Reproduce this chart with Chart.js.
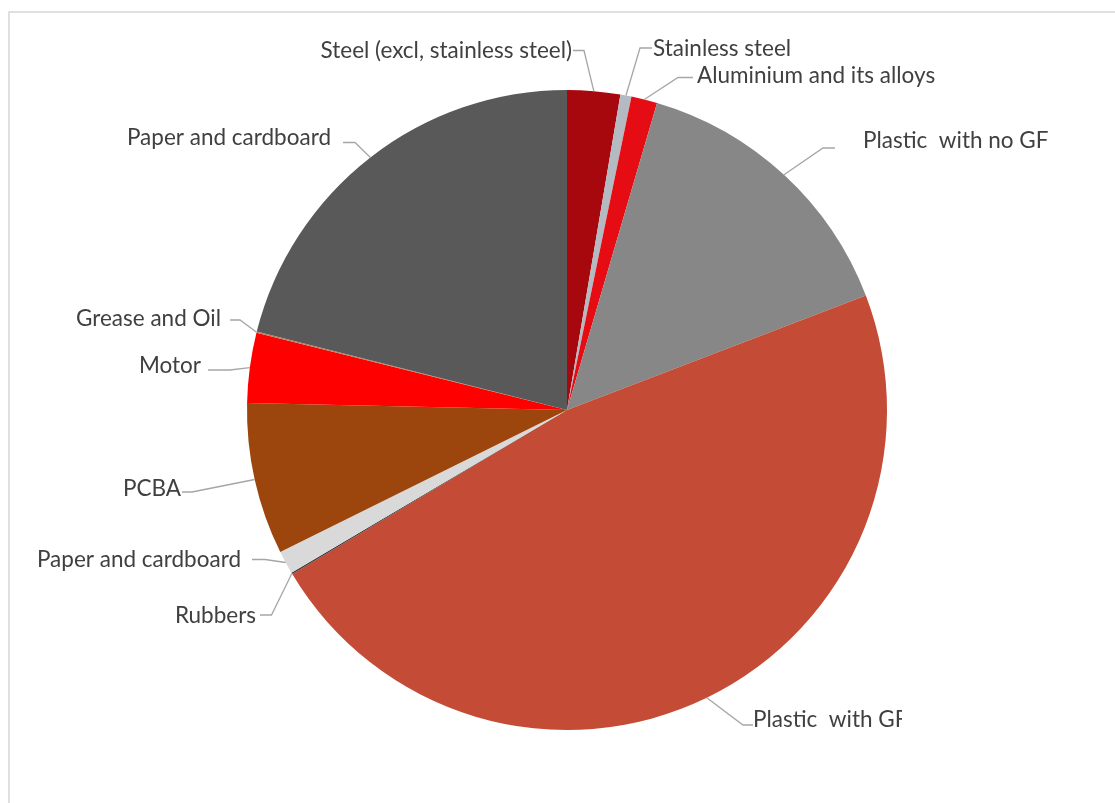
<!DOCTYPE html>
<html><head><meta charset="utf-8">
<script src="https://cdn.jsdelivr.net/npm/chart.js@4.4.1/dist/chart.umd.min.js"></script>
<style>html,body{margin:0;padding:0;background:#fff;overflow:hidden}#wrap{position:relative;width:1115px;height:803px}</style>
</head><body><div id="wrap"><canvas id="c" width="1115" height="803"></canvas></div>
<script>
// ---- data ----
const categories = [
  "Steel (excl, stainless steel)",
  "Stainless steel",
  "Aluminium and its alloys",
  "Plastic  with no GF",
  "Plastic  with GF",
  "Rubbers",
  "Paper and cardboard",
  "PCBA",
  "Motor",
  "Grease and Oil",
  "Paper and cardboard"
];
const shares = [2.67, 0.56, 1.31, 14.64, 47.25, 0.08, 1.17, 7.67, 3.53, 0.06, 21.06];
const sliceColors = ["#A6080E", "#B4BAC2", "#E60C14", "#878787", "#C44B35", "#3A3A3A",
                     "#D9D9D9", "#9C460D", "#FF0000", "#B08060", "#595959"];

// ---- label layout (text position, leader elbow) ----
const labelLayout = [
  {tx: 572, ty: 58, align: "right", hy: 50.5, ex: 584, sx: 573},
  {tx: 653, ty: 56, align: "left",  hy: 48,   ex: 640, sx: 652},
  {tx: 697, ty: 83, align: "left",  hy: 77.5, ex: 678, sx: 693},
  {tx: 863, ty: 148, align: "left", hy: 148,  ex: 823, sx: 835},
  {tx: 753, ty: 727, align: "left", hy: 725,  ex: 743, sx: 753, clipRight: 902},
  {tx: 256, ty: 623, align: "right", hy: 615, ex: 271.5, sx: 260},
  {tx: 241, ty: 567, align: "right", hy: 559.5, ex: 265, sx: 252},
  {tx: 181, ty: 496, align: "right", hy: 492, ex: 192, sx: 182},
  {tx: 201, ty: 373, align: "right", hy: 370, ex: 230, sx: 208},
  {tx: 221, ty: 326, align: "right", hy: 320, ex: 240, sx: 230},
  {tx: 331, ty: 145, align: "right", hy: 142.5, ex: 355, sx: 343}
];

const framePlugin = {
  id: "frame",
  beforeDraw(chart) {
    const ctx = chart.ctx;
    ctx.save();
    ctx.fillStyle = "#fff";
    ctx.fillRect(0, 0, chart.width, chart.height);
    ctx.strokeStyle = "#D6D6D6";
    ctx.lineWidth = 1.5;
    ctx.beginPath();
    ctx.moveTo(9, chart.height);
    ctx.lineTo(9, 12);
    ctx.lineTo(chart.width, 12);
    ctx.stroke();
    ctx.restore();
  }
};

const labelPlugin = {
  id: "pieLabels",
  afterDatasetsDraw(chart) {
    const ctx = chart.ctx;
    const meta = chart.getDatasetMeta(0);
    ctx.save();
    ctx.font = "100px Lato, 'Open Sans', sans-serif";
    const w = ctx.measureText("Paper and cardboard").width;
    const size = 100 * 204 / w;
    ctx.font = size.toFixed(2) + "px Lato, 'Open Sans', sans-serif";
    meta.data.forEach((arc, i) => {
      const L = labelLayout[i];
      const p = arc.getProps(["x", "y", "startAngle", "endAngle", "outerRadius"], true);
      const mid = (p.startAngle + p.endAngle) / 2;
      const px = p.x + Math.cos(mid) * p.outerRadius;
      const py = p.y + Math.sin(mid) * p.outerRadius;
      ctx.strokeStyle = "#A6A6A6";
      ctx.lineWidth = 1.3;
      ctx.beginPath();
      ctx.moveTo(px, py);
      ctx.lineTo(L.ex, L.hy);
      ctx.lineTo(L.sx, L.hy);
      ctx.stroke();
      ctx.save();
      if (L.clipRight) {
        ctx.beginPath();
        ctx.rect(0, 0, L.clipRight, chart.height);
        ctx.clip();
      }
      ctx.fillStyle = "#404040";
      ctx.textAlign = L.align;
      ctx.textBaseline = "alphabetic";
      ctx.fillText(categories[i], L.tx, L.ty);
      ctx.restore();
    });
    ctx.restore();
  }
};

new Chart(document.getElementById("c"), {
  type: "pie",
  data: {
    labels: categories,
    datasets: [{
      data: shares,
      backgroundColor: sliceColors,
      borderWidth: 0
    }]
  },
  options: {
    responsive: false,
    devicePixelRatio: 1,
    animation: false,
    layout: {padding: {left: 247, right: 228, top: 90, bottom: 73}},
    plugins: {legend: {display: false}, tooltip: {enabled: false}, title: {display: false}}
  },
  plugins: [framePlugin, labelPlugin]
});
</script>
</body></html>
